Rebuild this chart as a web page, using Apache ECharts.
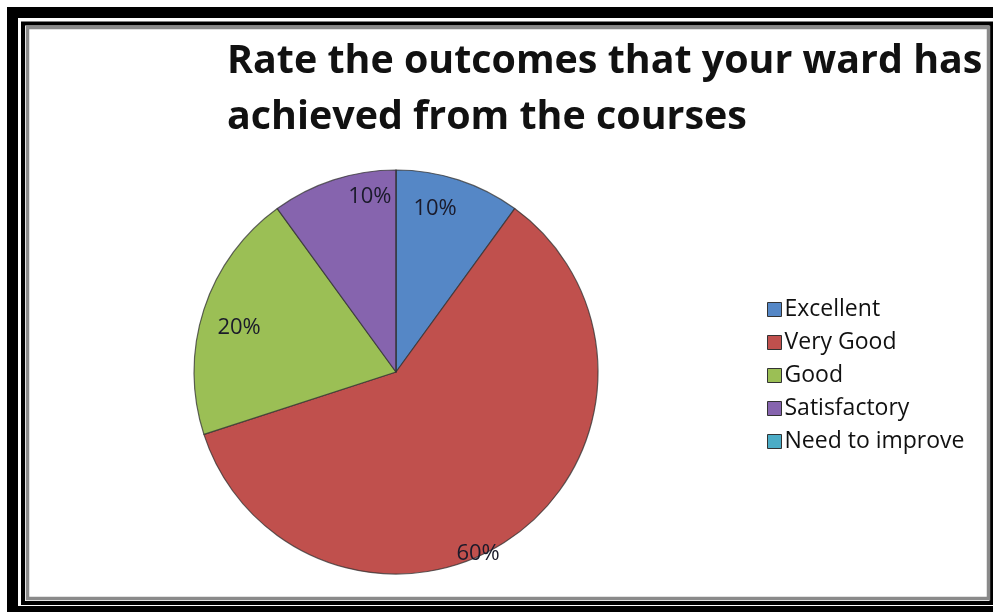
<!DOCTYPE html>
<html>
<head>
<meta charset="utf-8">
<script src="https://cdn.jsdelivr.net/npm/echarts@6/dist/echarts.min.js"></script>
<style>
html,body{margin:0;padding:0;background:#fff;}
#main{width:993px;height:612px;}
</style>
</head>
<body>
<div id="main"></div>
<script>
const titleText = 'Rate the outcomes that your ward has\nachieved from the courses';
const categories = ['Excellent', 'Very Good', 'Good', 'Satisfactory', 'Need to improve'];
const values = [10, 60, 20, 10, 0];
const colors = ['#5587C6', '#C0504D', '#9BBF55', '#8664AE', '#4BACC6'];
// label nudges (dx, dy) from the default inside position, by slice
const labelNudge = [[7, -64], [21, 98], [-58, -12], [6, -76], [0, 0]];

const chart = echarts.init(document.getElementById('main'));
const option = {
  backgroundColor: '#ffffff',
  animation: false,
  title: {
    text: titleText,
    left: 222,
    top: 29,
    textStyle: {
      fontFamily: 'Open Sans',
      fontWeight: 'bold',
      fontSize: 39.4,
      lineHeight: 56,
      color: '#111'
    }
  },
  legend: {
    orient: 'vertical',
    left: 762,
    top: 293,
    itemWidth: 14,
    itemHeight: 14,
    itemGap: 10,
    icon: 'rect',
    data: categories,
    textStyle: {
      fontFamily: 'Open Sans',
      fontSize: 23,
      lineHeight: 23,
      color: '#111',
      padding: [0, 0, 0, -2]
    },
    itemStyle: { borderColor: '#333', borderWidth: 1 }
  },
  series: [{
    type: 'pie',
    center: [396, 372],
    radius: 202,
    startAngle: 90,
    clockwise: true,
    avoidLabelOverlap: false,
    itemStyle: { borderColor: 'rgba(50,50,50,0.75)', borderWidth: 1.2 },
    label: {
      show: true,
      position: 'inside',
      formatter: p => p.value > 0 ? p.percent + '%' : '',
      fontFamily: 'Open Sans',
      fontSize: 22,
      color: '#1a1a2a'
    },
    labelLayout: p => ({ dx: labelNudge[p.dataIndex][0], dy: labelNudge[p.dataIndex][1] }),
    emphasis: { disabled: true },
    data: categories.map((c, i) => ({ name: c, value: values[i], itemStyle: { color: colors[i] } }))
  }],
  graphic: [
    { type: 'rect', z: 100, shape: { x: 12.5, y: 12.5, width: 1000, height: 599 },
      style: { fill: 'none', stroke: '#000', lineWidth: 11 } },
    { type: 'rect', z: 100, shape: { x: 23, y: 23.5, width: 968.5, height: 579.5 },
      style: { fill: 'none', stroke: '#000', lineWidth: 4 } },
    { type: 'rect', z: 100, shape: { x: 27.5, y: 27.5, width: 961, height: 571 },
      style: { fill: 'none', stroke: '#8a8a8a', lineWidth: 3.5 } }
  ]
};
chart.setOption(option);
</script>
</body>
</html>
